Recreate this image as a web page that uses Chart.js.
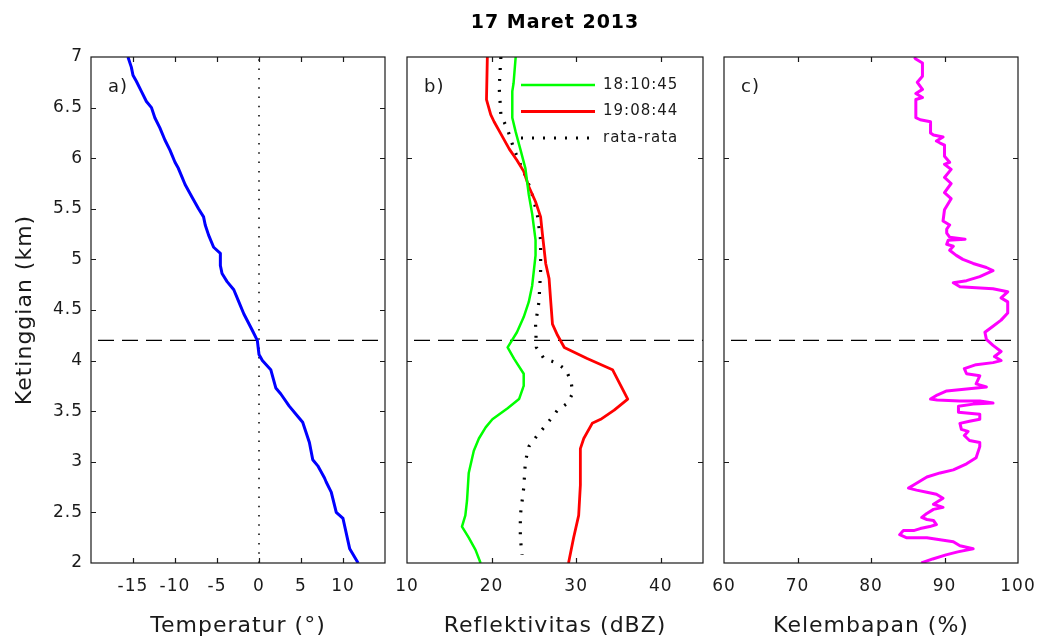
<!DOCTYPE html>
<html>
<head>
<meta charset="utf-8">
<script src="https://cdn.jsdelivr.net/npm/chart.js@4.4.1/dist/chart.umd.min.js"></script>
<style>
html,body{margin:0;padding:0;background:#fff;}
#wrap{position:relative;width:1037px;height:642px;overflow:hidden;background:#fff;}
#wrap canvas{position:absolute;left:0;top:0;}
</style>
</head>
<body>
<div id="wrap">
<canvas id="ca" width="1037" height="642"></canvas>
<canvas id="cb" width="1037" height="642"></canvas>
<canvas id="cc" width="1037" height="642"></canvas>
</div>
<script>
// ---------- text ----------
const TITLE = '17 Maret 2013';
const HEIGHT_LABEL = 'Ketinggian (km)';
const X_LABEL_A = 'Temperatur (\u00B0)';
const X_LABEL_B = 'Reflektivitas (dBZ)';
const X_LABEL_C = 'Kelembapan (%)';
const PANEL_LABELS = ['a)', 'b)', 'c)'];
const SERIES_LABELS = ['18:10:45', '19:08:44', 'rata-rata'];

// ---------- axes ----------
const Y_RANGE = [2, 7];
const Y_TICKS_A = [2, 2.5, 3, 3.5, 4, 4.5, 5, 5.5, 6, 6.5, 7];
const Y_TICKS_BC = [2, 3, 4, 5, 6, 7];
const X_RANGE_A = [-20, 15];
const X_TICKS_A = [-15, -10, -5, 0, 5, 10];
const X_RANGE_B = [10, 45];
const X_TICKS_B = [10, 20, 30, 40];
const X_RANGE_C = [60, 100];
const X_TICKS_C = [60, 70, 80, 90, 100];
const FREEZING_LEVEL = 4.2;   // km (dashed line)
const ZERO_TEMP = 0;          // dotted line in panel a

// ---------- a) temperature ----------
const TEMP_H = [2.0,2.14,2.44,2.5,2.7,2.8,2.84,2.96,3.02,3.19,3.39,3.45,3.55,3.67,3.73,3.91,4.0,4.06,4.2,4.3,4.46,4.58,4.7,4.78,4.86,4.94,5.06,5.12,5.24,5.34,5.42,5.5,5.62,5.74,5.82,5.9,5.96,6.08,6.18,6.3,6.4,6.5,6.56,6.66,6.76,6.82,6.9,7.0];
const TEMP_T = [11.8,10.8,10.0,9.2,8.6,8.0,7.8,7.0,6.4,6.0,5.2,4.6,3.6,2.6,2.0,1.4,0.4,0,-0.2,-0.8,-1.8,-2.4,-3.0,-3.8,-4.4,-4.6,-4.6,-5.4,-6.0,-6.4,-6.6,-7.2,-8.0,-8.8,-9.2,-9.6,-10,-10.6,-11.2,-11.8,-12.4,-12.8,-13.4,-14.0,-14.6,-15.0,-15.2,-15.6];

// ---------- b) reflectivity ----------
const R1_H   = [7.0,6.74,6.66,6.4,6.26,6.09,5.9,5.64,5.45,5.19,5.04,4.89,4.74,4.58,4.43,4.28,4.13,4.02,3.87,3.75,3.62,3.53,3.42,3.34,3.23,3.11,2.89,2.62,2.47,2.36,2.25,2.13,2.0];
const R1_DBZ = [22.85,22.6,22.45,22.45,22.85,23.4,24.0,24.4,24.8,25.2,25.2,25.0,24.8,24.4,23.8,23.0,21.9,22.65,23.8,23.8,23.25,21.9,20.1,19.3,18.5,17.9,17.3,17.1,16.9,16.5,17.3,18.1,18.7];
const R2_H   = [7.0,6.58,6.43,6.36,6.24,6.09,5.98,5.87,5.72,5.57,5.42,5.26,5.11,4.96,4.81,4.58,4.36,4.25,4.13,4.02,3.91,3.62,3.51,3.42,3.38,3.23,3.13,2.77,2.47,2.25,2.0];
const R2_DBZ = [19.5,19.4,19.9,20.3,21.1,22.1,23.0,23.8,24.4,25.2,25.8,26.0,26.2,26.4,26.8,27.0,27.2,27.8,28.6,31.3,34.3,36.1,34.5,32.9,31.9,30.9,30.5,30.5,30.3,29.7,29.1];
const RM_H   = [7.0,6.7,6.43,6.28,6.09,5.94,5.79,5.64,5.45,5.19,4.89,4.58,4.36,4.13,4.02,3.98,3.91,3.79,3.68,3.58,3.51,3.38,3.26,3.15,3.0,2.74,2.47,2.25,2.08];
const RM_DBZ = [21.1,20.9,21.1,21.9,22.65,23.4,24.2,24.8,25.4,25.8,25.8,25.6,25.2,25.3,26.2,27.6,28.8,29.4,29.6,29.0,27.8,26.6,25.4,24.4,24.0,23.8,23.4,23.4,23.6];

// ---------- c) humidity ----------
const HUM_H  = [2.0,2.04,2.08,2.11,2.14,2.17,2.21,2.23,2.25,2.25,2.28,2.32,2.32,2.34,2.36,2.38,2.42,2.43,2.45,2.49,2.53,2.55,2.58,2.64,2.68,2.7,2.72,2.74,2.77,2.81,2.85,2.89,2.92,2.98,3.04,3.15,3.19,3.21,3.26,3.3,3.32,3.38,3.4,3.42,3.47,3.49,3.55,3.57,3.58,3.6,3.6,3.61,3.62,3.66,3.7,3.72,3.74,3.77,3.85,3.87,3.92,3.96,3.98,4.0,4.04,4.09,4.15,4.21,4.28,4.34,4.4,4.47,4.58,4.62,4.68,4.71,4.72,4.73,4.77,4.79,4.83,4.89,4.92,4.96,5.0,5.04,5.09,5.13,5.15,5.19,5.2,5.22,5.26,5.3,5.34,5.38,5.49,5.6,5.66,5.75,5.81,5.89,5.94,5.96,6.02,6.13,6.15,6.17,6.21,6.23,6.25,6.36,6.38,6.4,6.58,6.6,6.64,6.68,6.75,6.81,6.94,6.98,7.0];
const HUM_RH = [86.85,88.4,90.2,91.8,93.9,92.1,91.2,89.4,87.6,84.8,83.9,84.4,85.8,86.7,88.0,88.9,88.5,87.6,86.9,87.6,88.5,89.8,88.5,89.8,88.9,87.6,86.2,85.1,85.8,86.7,87.6,89.4,91.2,93.0,94.3,94.8,94.8,93.4,92.7,93.2,92.3,92.1,93.4,94.8,94.8,91.9,91.9,93.9,96.6,94.8,92.1,89.0,88.1,89.0,90.3,93.0,95.7,94.3,94.8,93.0,92.7,94.3,96.6,97.7,96.8,97.7,96.6,95.7,95.5,96.6,97.7,98.6,98.6,97.7,98.6,96.6,94.3,92.1,91.2,93.0,94.8,96.6,95.7,93.9,92.5,91.6,90.7,91.2,90.3,90.5,92.8,90.7,90.3,90.3,90.7,89.8,90.0,90.9,90.0,90.9,90.0,90.9,90.0,90.7,90.0,90.0,89.4,88.9,89.8,88.5,88.1,88.1,86.7,86.1,86.1,87.0,86.1,87.0,86.3,87.0,87.0,86.1,85.9];

// ---------- helpers ----------
const TXT = '#1a1a1a';
Chart.defaults.font.family = "'DejaVu Sans', Verdana, sans-serif";
Chart.defaults.color = TXT;

function pts(xs, ys) { return xs.map((v, i) => ({ x: v, y: ys[i] })); }
function hline(range, yv) { return [{ x: range[0], y: yv }, { x: range[1], y: yv }]; }
function vline(xv) { return [{ x: xv, y: Y_RANGE[0] }, { x: xv, y: Y_RANGE[1] }]; }

const decor = {
  id: 'decor',
  beforeDraw(chart) { chart.ctx.letterSpacing = '1px'; },
  afterDatasetsDraw(chart, args, opts) {
    const { ctx, chartArea: a, scales } = chart;
    const L = 5;
    ctx.save();
    ctx.strokeStyle = TXT;
    ctx.lineWidth = 1.2;
    ctx.beginPath();
    scales.x.ticks.forEach(t => {
      const p = Math.round(scales.x.getPixelForValue(t.value)) + 0.5;
      if (p <= a.left + 1 || p >= a.right - 1) return;
      ctx.moveTo(p, a.bottom); ctx.lineTo(p, a.bottom - L);
      ctx.moveTo(p, a.top); ctx.lineTo(p, a.top + L);
    });
    scales.y.ticks.forEach(t => {
      const p = Math.round(scales.y.getPixelForValue(t.value)) + 0.5;
      if (p <= a.top + 1 || p >= a.bottom - 1) return;
      ctx.moveTo(a.left, p); ctx.lineTo(a.left + L, p);
      ctx.moveTo(a.right, p); ctx.lineTo(a.right - L, p);
    });
    ctx.stroke();
    ctx.strokeRect(a.left, a.top, a.right - a.left, a.bottom - a.top);
    ctx.restore();
  },
  afterDraw(chart, args, opts) {
    const { ctx, chartArea: a } = chart;
    ctx.save();
    ctx.letterSpacing = '1px';
    ctx.fillStyle = TXT;
    ctx.font = "18px 'DejaVu Sans', Verdana, sans-serif";
    ctx.textBaseline = 'middle';
    ctx.textAlign = 'left';
    if (opts.label) ctx.fillText(opts.label, a.left + 17, a.top + 30);
    if (opts.legend) {
      const lg = opts.legend;
      ctx.font = "15px 'DejaVu Sans', Verdana, sans-serif";
      chart.data.datasets.slice(0, lg.count).forEach((d, i) => {
        const y = lg.y0 + i * lg.dy;
        ctx.save();
        ctx.strokeStyle = d.borderColor;
        ctx.lineWidth = Math.min(d.borderWidth, 3);
        ctx.setLineDash(d.borderDash || []);
        ctx.beginPath(); ctx.moveTo(lg.x0, y); ctx.lineTo(lg.x1, y); ctx.stroke();
        ctx.restore();
        ctx.fillText(d.label, lg.tx, y);
      });
    }
    ctx.restore();
  }
};

function xScale(range, ticks, title) {
  return {
    type: 'linear', min: range[0], max: range[1],
    afterBuildTicks: s => { s.ticks = ticks.map(v => ({ value: v })); },
    afterFit: s => { s.height = 79; s.paddingLeft = 0; s.paddingRight = 0; },
    grid: { display: false, drawTicks: false },
    border: { display: false },
    ticks: { padding: 13, autoSkip: false, maxRotation: 0, font: { size: 17 }, color: TXT, callback: v => String(v) },
    title: { display: true, text: title, font: { size: 22 }, color: TXT, padding: { top: 0, bottom: 3 } }
  };
}
function yScale(ticks, show) {
  const s = {
    type: 'linear', min: Y_RANGE[0], max: Y_RANGE[1],
    afterBuildTicks: sc => { sc.ticks = ticks.map(v => ({ value: v })); },
    grid: { display: false, drawTicks: false },
    border: { display: false },
    display: show
  };
  if (show) {
    s.afterFit = sc => { sc.width = 91; sc.paddingTop = 0; sc.paddingBottom = 0; };
    s.ticks = { padding: 8, autoSkip: false, font: { size: 17 }, color: TXT, callback: v => String(v) };
    s.title = { display: true, text: HEIGHT_LABEL, font: { size: 22 }, color: TXT, padding: { top: 12, bottom: 0 } };
  }
  return s;
}
const freezeStyle = { borderColor: '#000', borderWidth: 1.3, borderDash: [16, 8], borderDashOffset: 17 };
const common = {
  responsive: false, animation: false, devicePixelRatio: 1,
  elements: { point: { radius: 0 }, line: { tension: 0, borderJoinStyle: 'round', fill: false } },
  events: []
};

// ---------- panel a ----------
new Chart(document.getElementById('ca'), {
  type: 'line',
  data: { datasets: [
    { label: 'T', data: pts(TEMP_T, TEMP_H), borderColor: '#0000ff', borderWidth: 3 },
    { label: 'zero', data: vline(ZERO_TEMP), borderColor: '#000', borderWidth: 1.5, borderDash: [1.5, 7.8] },
    Object.assign({ label: 'freeze', data: hline(X_RANGE_A, FREEZING_LEVEL) }, freezeStyle)
  ]},
  options: Object.assign({}, common, {
    layout: { padding: { left: 0, right: 652, top: 57, bottom: 0 } },
    scales: { x: xScale(X_RANGE_A, X_TICKS_A, X_LABEL_A), y: yScale(Y_TICKS_A, true) },
    plugins: { legend: { display: false }, tooltip: { enabled: false }, decor: { label: PANEL_LABELS[0] } }
  }),
  plugins: [decor]
});

// ---------- panel b ----------
new Chart(document.getElementById('cb'), {
  type: 'line',
  data: { datasets: [
    { label: SERIES_LABELS[0], data: pts(R1_DBZ, R1_H), borderColor: '#00ff00', borderWidth: 2.5 },
    { label: SERIES_LABELS[1], data: pts(R2_DBZ, R2_H), borderColor: '#ff0000', borderWidth: 2.8 },
    { label: SERIES_LABELS[2], data: pts(RM_DBZ, RM_H), borderColor: '#000000', borderWidth: 3.2, borderDash: [2, 9], borderCapStyle: 'butt' },
    Object.assign({ label: 'freeze', data: hline(X_RANGE_B, FREEZING_LEVEL) }, freezeStyle)
  ]},
  options: Object.assign({}, common, {
    layout: { padding: { left: 407, right: 334, top: 0, bottom: 0 } },
    scales: { x: xScale(X_RANGE_B, X_TICKS_B, X_LABEL_B), y: yScale(Y_TICKS_BC, false) },
    plugins: {
      legend: { display: false }, tooltip: { enabled: false },
      title: { display: true, text: TITLE, fullSize: false, color: '#000', font: { size: 19, weight: 'bold' }, padding: { top: 11.5, bottom: 22.7 } },
      decor: { label: PANEL_LABELS[1], legend: { count: 3, x0: 521, x1: 595, tx: 603, y0: 85, dy: 26.5 } }
    }
  }),
  plugins: [decor]
});

// ---------- panel c ----------
new Chart(document.getElementById('cc'), {
  type: 'line',
  data: { datasets: [
    { label: 'RH', data: pts(HUM_RH, HUM_H), borderColor: '#ff00ff', borderWidth: 3 },
    Object.assign({ label: 'freeze', data: hline(X_RANGE_C, FREEZING_LEVEL) }, freezeStyle)
  ]},
  options: Object.assign({}, common, {
    layout: { padding: { left: 724, right: 19, top: 57, bottom: 0 } },
    scales: { x: xScale(X_RANGE_C, X_TICKS_C, X_LABEL_C), y: yScale(Y_TICKS_BC, false) },
    plugins: { legend: { display: false }, tooltip: { enabled: false }, decor: { label: PANEL_LABELS[2] } }
  }),
  plugins: [decor]
});
</script>
</body>
</html>
